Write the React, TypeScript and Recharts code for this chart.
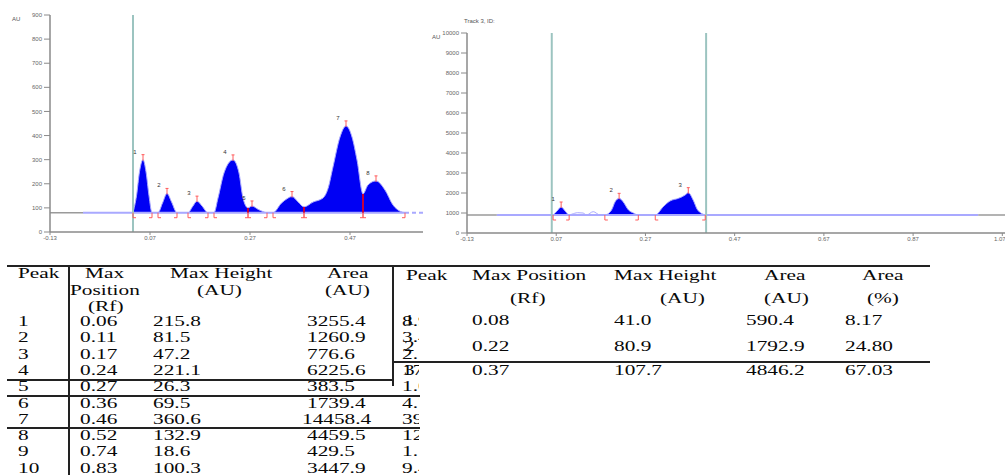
import React from 'react';
import {
  ComposedChart, Area, Line, Scatter, XAxis, YAxis, ReferenceLine,
} from 'recharts';

const colors = {
  fill: '#0000f4',
  trace: '#a9a9ff',
  base: '#9a9a9a',
  axis: '#8a8a8a',
  tick: '#666666',
  marker: '#ff5c5c',
  valley: '#c4003c',
  track: '#9cc4c0',
  ink: '#080808',
} as const;

// left scan (track with 10 peaks, picture cropped after peak 8)
const leftBase = 80;
const leftRf = [0.036, 0.043, 0.049, 0.056, 0.062, 0.068, 0.074, 0.084, 0.086, 0.095, 0.104, 0.113, 0.124, 0.146, 0.155, 0.164, 0.174, 0.186, 0.198, 0.206, 0.218, 0.236, 0.248, 0.256, 0.266, 0.274, 0.286, 0.298, 0.304, 0.316, 0.333, 0.344, 0.354, 0.366, 0.378, 0.396, 0.416, 0.426, 0.436, 0.45, 0.462, 0.474, 0.484, 0.496, 0.506, 0.522, 0.54, 0.556, 0.57, 0.58];
const leftAu = [80, 150, 250, 300, 250, 150, 80, 80, 80, 120, 160, 125, 80, 80, 105, 128, 108, 80, 80, 141, 245, 299, 245, 141, 100, 108, 94, 83, 80, 80, 120, 138, 147, 125, 104, 124, 141, 180, 270, 394, 440, 394, 299, 158, 195, 212, 174, 112, 86, 80];
const leftPeakStart = [0.036, 0.086, 0.146, 0.198, 0.266, 0.316, 0.378, 0.496];
const leftPeakEnd = [0.074, 0.124, 0.186, 0.266, 0.304, 0.378, 0.496, 0.58];
const leftPeakRf = [0.056, 0.104, 0.164, 0.236, 0.274, 0.354, 0.462, 0.522];
const leftPeakAu = [300, 160, 128, 299, 108, 147, 440, 212];
const leftValleyRf = [0.266, 0.378, 0.496];
const leftValleyAu = [100, 104, 158];
const leftTrackLine = [0.036];
const leftXTicks = [-0.13, 0.07, 0.27, 0.47];
const leftYTicks = [0, 100, 200, 300, 400, 500, 600, 700, 800, 900];

// right scan (Track 3)
const rightBase = 900;
const rightRf = [0.063, 0.072, 0.081, 0.09, 0.099, 0.105, 0.118, 0.13, 0.138, 0.153, 0.168, 0.179, 0.194, 0.202, 0.211, 0.22, 0.232, 0.243, 0.254, 0.292, 0.31, 0.325, 0.344, 0.359, 0.366, 0.377, 0.387, 0.404];
const rightAu = [900, 1100, 1300, 1100, 900, 940, 1015, 1000, 900, 1067, 900, 900, 1150, 1560, 1733, 1560, 1150, 1000, 900, 900, 1317, 1600, 1733, 1900, 2017, 1650, 1150, 900];
const rightPeakStart = [0.063, 0.179, 0.292];
const rightPeakEnd = [0.099, 0.254, 0.404];
const rightPeakRf = [0.081, 0.211, 0.366];
const rightPeakAu = [1300, 1733, 2017];
const rightTrackLine = [0.06, 0.406];
const rightXTicks = [-0.13, 0.07, 0.27, 0.47, 0.67, 0.87, 1.07];
const rightYTicks = [0, 1000, 2000, 3000, 4000, 5000, 6000, 7000, 8000, 9000, 10000];

// tables
const leftPeakNo = ['1', '2', '3', '4', '5', '6', '7', '8', '9', '10'];
const leftMaxPos = ['0.06', '0.11', '0.17', '0.24', '0.27', '0.36', '0.46', '0.52', '0.74', '0.83'];
const leftMaxHeight = ['215.8', '81.5', '47.2', '221.1', '26.3', '69.5', '360.6', '132.9', '18.6', '100.3'];
const leftArea = ['3255.4', '1260.9', '776.6', '6225.6', '383.5', '1739.4', '14458.4', '4459.5', '429.5', '3447.9'];
const leftAreaPct = ['8.93', '3.46', '2.13', '17.09', '1.05', '4.77', '39.68', '12.24', '1.18', '9.46'];
const rightPeakNo = ['1', '2', '3'];
const rightMaxPos = ['0.08', '0.22', '0.37'];
const rightMaxHeight = ['41.0', '80.9', '107.7'];
const rightArea = ['590.4', '1792.9', '4846.2'];
const rightAreaPct = ['8.17', '24.80', '67.03'];

const buildTrace = (rf: number[], au: number[], starts: number[], ends: number[], base: number) =>
  rf.map((x, i) => ({
    rf: x,
    au: au[i],
    fill: starts.some((s, k) => x >= s && x <= ends[k]) ? au[i] : base,
  }));

const tickStyle = { fill: colors.tick, fontSize: 6, fontFamily: 'Liberation Sans' };

const ApexMark = (p: any) => (
  <path d={`M${p.cx - 1.5},${p.cy - 5}H${p.cx + 1.5}M${p.cx},${p.cy - 5}V${p.cy + 1}`} stroke={colors.marker} strokeWidth={1} fill="none" />
);
const StartMark = (p: any) => (
  <path d={`M${p.cx},${p.cy}V${p.cy + 5}H${p.cx + 3}`} stroke={colors.marker} strokeWidth={1} fill="none" />
);
const EndMark = (p: any) => (
  <path d={`M${p.cx},${p.cy}V${p.cy + 5}H${p.cx - 3}`} stroke={colors.marker} strokeWidth={1} fill="none" />
);
const PeakLabel = (p: any) => (
  <text x={p.cx - 8} y={p.cy - 6} fontSize={6} fill="#333" fontFamily="Liberation Sans" textAnchor="middle">
    {p.payload.label}
  </text>
);

interface ScanProps {
  width: number;
  height: number;
  margin: { top: number; right: number; left: number; bottom: number };
  yWidth: number;
  xHeight: number;
  xDomain: [number, number];
  xTicks: number[];
  yTicks: number[];
  base: number;
  baseGrayTo: number;
  baseBlueTo: number;
  rf: number[];
  au: number[];
  starts: number[];
  ends: number[];
  peakRf: number[];
  peakAu: number[];
  valleyRf?: number[];
  valleyAu?: number[];
  trackLines: number[];
}

const Scan: React.FC<ScanProps> = (s) => {
  const trace = buildTrace(s.rf, s.au, s.starts, s.ends, s.base);
  const apex = s.peakRf.map((x, i) => ({ rf: x, au: s.peakAu[i], label: String(i + 1) }));
  const startPts = s.starts.map((x) => ({ rf: x, au: s.base }));
  const endPts = s.ends.map((x) => ({ rf: x, au: s.base }));
  const lastEnd = s.ends[s.ends.length - 1];
  const openEnd = s.baseBlueTo >= s.xDomain[1];
  return (
    <ComposedChart width={s.width} height={s.height} margin={s.margin}>
      <XAxis
        type="number"
        dataKey="rf"
        domain={s.xDomain}
        ticks={s.xTicks}
        allowDataOverflow
        height={s.xHeight}
        tick={tickStyle}
        tickFormatter={(v: number) => v.toFixed(2)}
        tickSize={3}
        tickMargin={1}
        axisLine={{ stroke: colors.axis, strokeWidth: 1.5 }}
        tickLine={{ stroke: colors.axis }}
      />
      <YAxis
        type="number"
        domain={[s.yTicks[0], s.yTicks[s.yTicks.length - 1]]}
        ticks={s.yTicks}
        allowDataOverflow
        width={s.yWidth}
        tick={tickStyle}
        tickSize={6}
        tickMargin={2}
        axisLine={{ stroke: colors.axis, strokeWidth: 1.5 }}
        tickLine={{ stroke: colors.axis }}
      />
      <ReferenceLine segment={[{ x: s.xDomain[0], y: s.base }, { x: s.baseGrayTo, y: s.base }]} stroke={colors.base} strokeWidth={1.5} />
      <ReferenceLine segment={[{ x: s.baseGrayTo, y: s.base }, { x: lastEnd, y: s.base }]} stroke={colors.trace} strokeWidth={2} />
      <ReferenceLine segment={[{ x: lastEnd, y: s.base }, { x: s.baseBlueTo, y: s.base }]} stroke={colors.trace} strokeWidth={2} strokeDasharray={openEnd ? '4 3' : undefined} />
      {!openEnd && (
        <ReferenceLine segment={[{ x: s.baseBlueTo, y: s.base }, { x: s.xDomain[1], y: s.base }]} stroke={colors.base} strokeWidth={1.5} />
      )}
      <Line data={trace} dataKey="au" type="monotone" stroke={colors.trace} strokeWidth={1} dot={false} isAnimationActive={false} />
      <Area data={trace} dataKey="fill" type="monotone" baseValue={s.base} stroke="none" fill={colors.fill} fillOpacity={1} isAnimationActive={false} />
      {(s.valleyRf || []).map((x, i) => (
        <ReferenceLine key={`v${i}`} segment={[{ x, y: s.base }, { x, y: s.valleyAu![i] }]} stroke={colors.valley} strokeWidth={2} />
      ))}
      {s.trackLines.map((x, i) => (
        <ReferenceLine key={`t${i}`} x={x} stroke={colors.track} strokeWidth={2} />
      ))}
      <Scatter data={apex} dataKey="au" shape={ApexMark} isAnimationActive={false} />
      <Scatter data={apex} dataKey="au" shape={PeakLabel} isAnimationActive={false} />
      <Scatter data={startPts} dataKey="au" shape={StartMark} isAnimationActive={false} />
      <Scatter data={endPts} dataKey="au" shape={EndMark} isAnimationActive={false} />
    </ComposedChart>
  );
};

const STRETCH = 1.42;

const T: React.FC<{ x: number; y: number; children: React.ReactNode }> = ({ x, y, children }) => (
  <div
    style={{
      position: 'absolute',
      left: x,
      top: y - 9,
      height: 18,
      lineHeight: '18px',
      fontSize: 15,
      whiteSpace: 'nowrap',
      color: colors.ink,
      transform: `scaleX(${STRETCH})`,
      transformOrigin: 'left center',
    }}
  >
    {children}
  </div>
);

const HLine: React.FC<{ x1: number; x2: number; y: number }> = ({ x1, x2, y }) => (
  <div style={{ position: 'absolute', left: x1, top: y - 1, width: x2 - x1, height: 2, background: '#222' }} />
);
const VLine: React.FC<{ x: number; y1: number; y2: number }> = ({ x, y1, y2 }) => (
  <div style={{ position: 'absolute', left: x - 1, top: y1, width: 2, height: y2 - y1, background: '#222' }} />
);

const small: React.CSSProperties = {
  position: 'absolute',
  fontSize: 6,
  fontFamily: 'Liberation Sans',
  color: '#555',
  whiteSpace: 'nowrap',
};

export default function App() {
  const leftRowY = leftPeakNo.map((_, i) => 321 + i * 16.3);
  const rightRowY = [320, 346, 370];
  return (
    <div
      style={{
        position: 'absolute',
        left: 0,
        top: 0,
        width: 1005,
        height: 475,
        overflow: 'hidden',
        background: '#fff',
        fontFamily: '"Liberation Serif", serif',
      }}
    >
      <div style={{ position: 'absolute', left: 0, top: 0 }}>
        <Scan
          width={430}
          height={250}
          margin={{ top: 15, right: 7, left: 10, bottom: 0 }}
          yWidth={40}
          xHeight={18}
          xDomain={[-0.13, 0.616]}
          xTicks={leftXTicks}
          yTicks={leftYTicks}
          base={leftBase}
          baseGrayTo={-0.064}
          baseBlueTo={0.616}
          rf={leftRf}
          au={leftAu}
          starts={leftPeakStart}
          ends={leftPeakEnd}
          peakRf={leftPeakRf}
          peakAu={leftPeakAu}
          valleyRf={leftValleyRf}
          valleyAu={leftValleyAu}
          trackLines={leftTrackLine}
        />
      </div>
      <div style={{ ...small, left: 12, top: 16 }}>AU</div>

      <div style={{ position: 'absolute', left: 430, top: 0 }}>
        <Scan
          width={575}
          height={250}
          margin={{ top: 33, right: 0, left: 0, bottom: 0 }}
          yWidth={37}
          xHeight={17}
          xDomain={[-0.13, 1.076]}
          xTicks={rightXTicks}
          yTicks={rightYTicks}
          base={rightBase}
          baseGrayTo={-0.063}
          baseBlueTo={1.016}
          rf={rightRf}
          au={rightAu}
          starts={rightPeakStart}
          ends={rightPeakEnd}
          peakRf={rightPeakRf}
          peakAu={rightPeakAu}
          trackLines={rightTrackLine}
        />
      </div>
      <div style={{ ...small, left: 432, top: 34 }}>AU</div>
      <div style={{ ...small, left: 464, top: 18 }}>Track 3, ID:</div>

      {/* left table */}
      <HLine x1={7} x2={930} y={266} />
      <VLine x={69} y1={266} y2={475} />
      <VLine x={393} y1={266} y2={386} />
      <HLine x1={7} x2={393} y={380} />
      <HLine x1={7} x2={420} y={396} />
      <HLine x1={7} x2={420} y={428} />
      <T x={18} y={273}>Peak</T>
      <T x={85} y={273}>Max</T>
      <T x={70} y={290}>Position</T>
      <T x={88} y={306}>(Rf)</T>
      <T x={170} y={273}>Max Height</T>
      <T x={197} y={290}>(AU)</T>
      <T x={327} y={273}>Area</T>
      <T x={325} y={290}>(AU)</T>
      {leftPeakNo.map((p, i) => (
        <React.Fragment key={p}>
          <T x={18} y={leftRowY[i]}>{p}</T>
          <T x={80} y={leftRowY[i]}>{leftMaxPos[i]}</T>
          <T x={153} y={leftRowY[i]}>{leftMaxHeight[i]}</T>
          <T x={leftArea[i].length > 6 ? 302 : 307} y={leftRowY[i]}>{leftArea[i]}</T>
        </React.Fragment>
      ))}
      <div style={{ position: 'absolute', left: 395, top: 0, width: 24, height: 475, overflow: 'hidden' }}>
        {leftAreaPct.map((v, i) => (
          <T key={i} x={402 - 395} y={leftRowY[i]}>{v}</T>
        ))}
      </div>

      {/* right table */}
      <HLine x1={393} x2={930} y={362} />
      <T x={406} y={275}>Peak</T>
      <T x={472} y={275}>Max Position</T>
      <T x={510} y={298}>(Rf)</T>
      <T x={614} y={275}>Max Height</T>
      <T x={660} y={298}>(AU)</T>
      <T x={764} y={275}>Area</T>
      <T x={764} y={298}>(AU)</T>
      <T x={862} y={275}>Area</T>
      <T x={867} y={298}>(%)</T>
      {rightPeakNo.map((p, i) => (
        <React.Fragment key={p}>
          <T x={404} y={rightRowY[i]}>{p}</T>
          <T x={472} y={rightRowY[i]}>{rightMaxPos[i]}</T>
          <T x={614} y={rightRowY[i]}>{rightMaxHeight[i]}</T>
          <T x={746} y={rightRowY[i]}>{rightArea[i]}</T>
          <T x={845} y={rightRowY[i]}>{rightAreaPct[i]}</T>
        </React.Fragment>
      ))}
    </div>
  );
}
